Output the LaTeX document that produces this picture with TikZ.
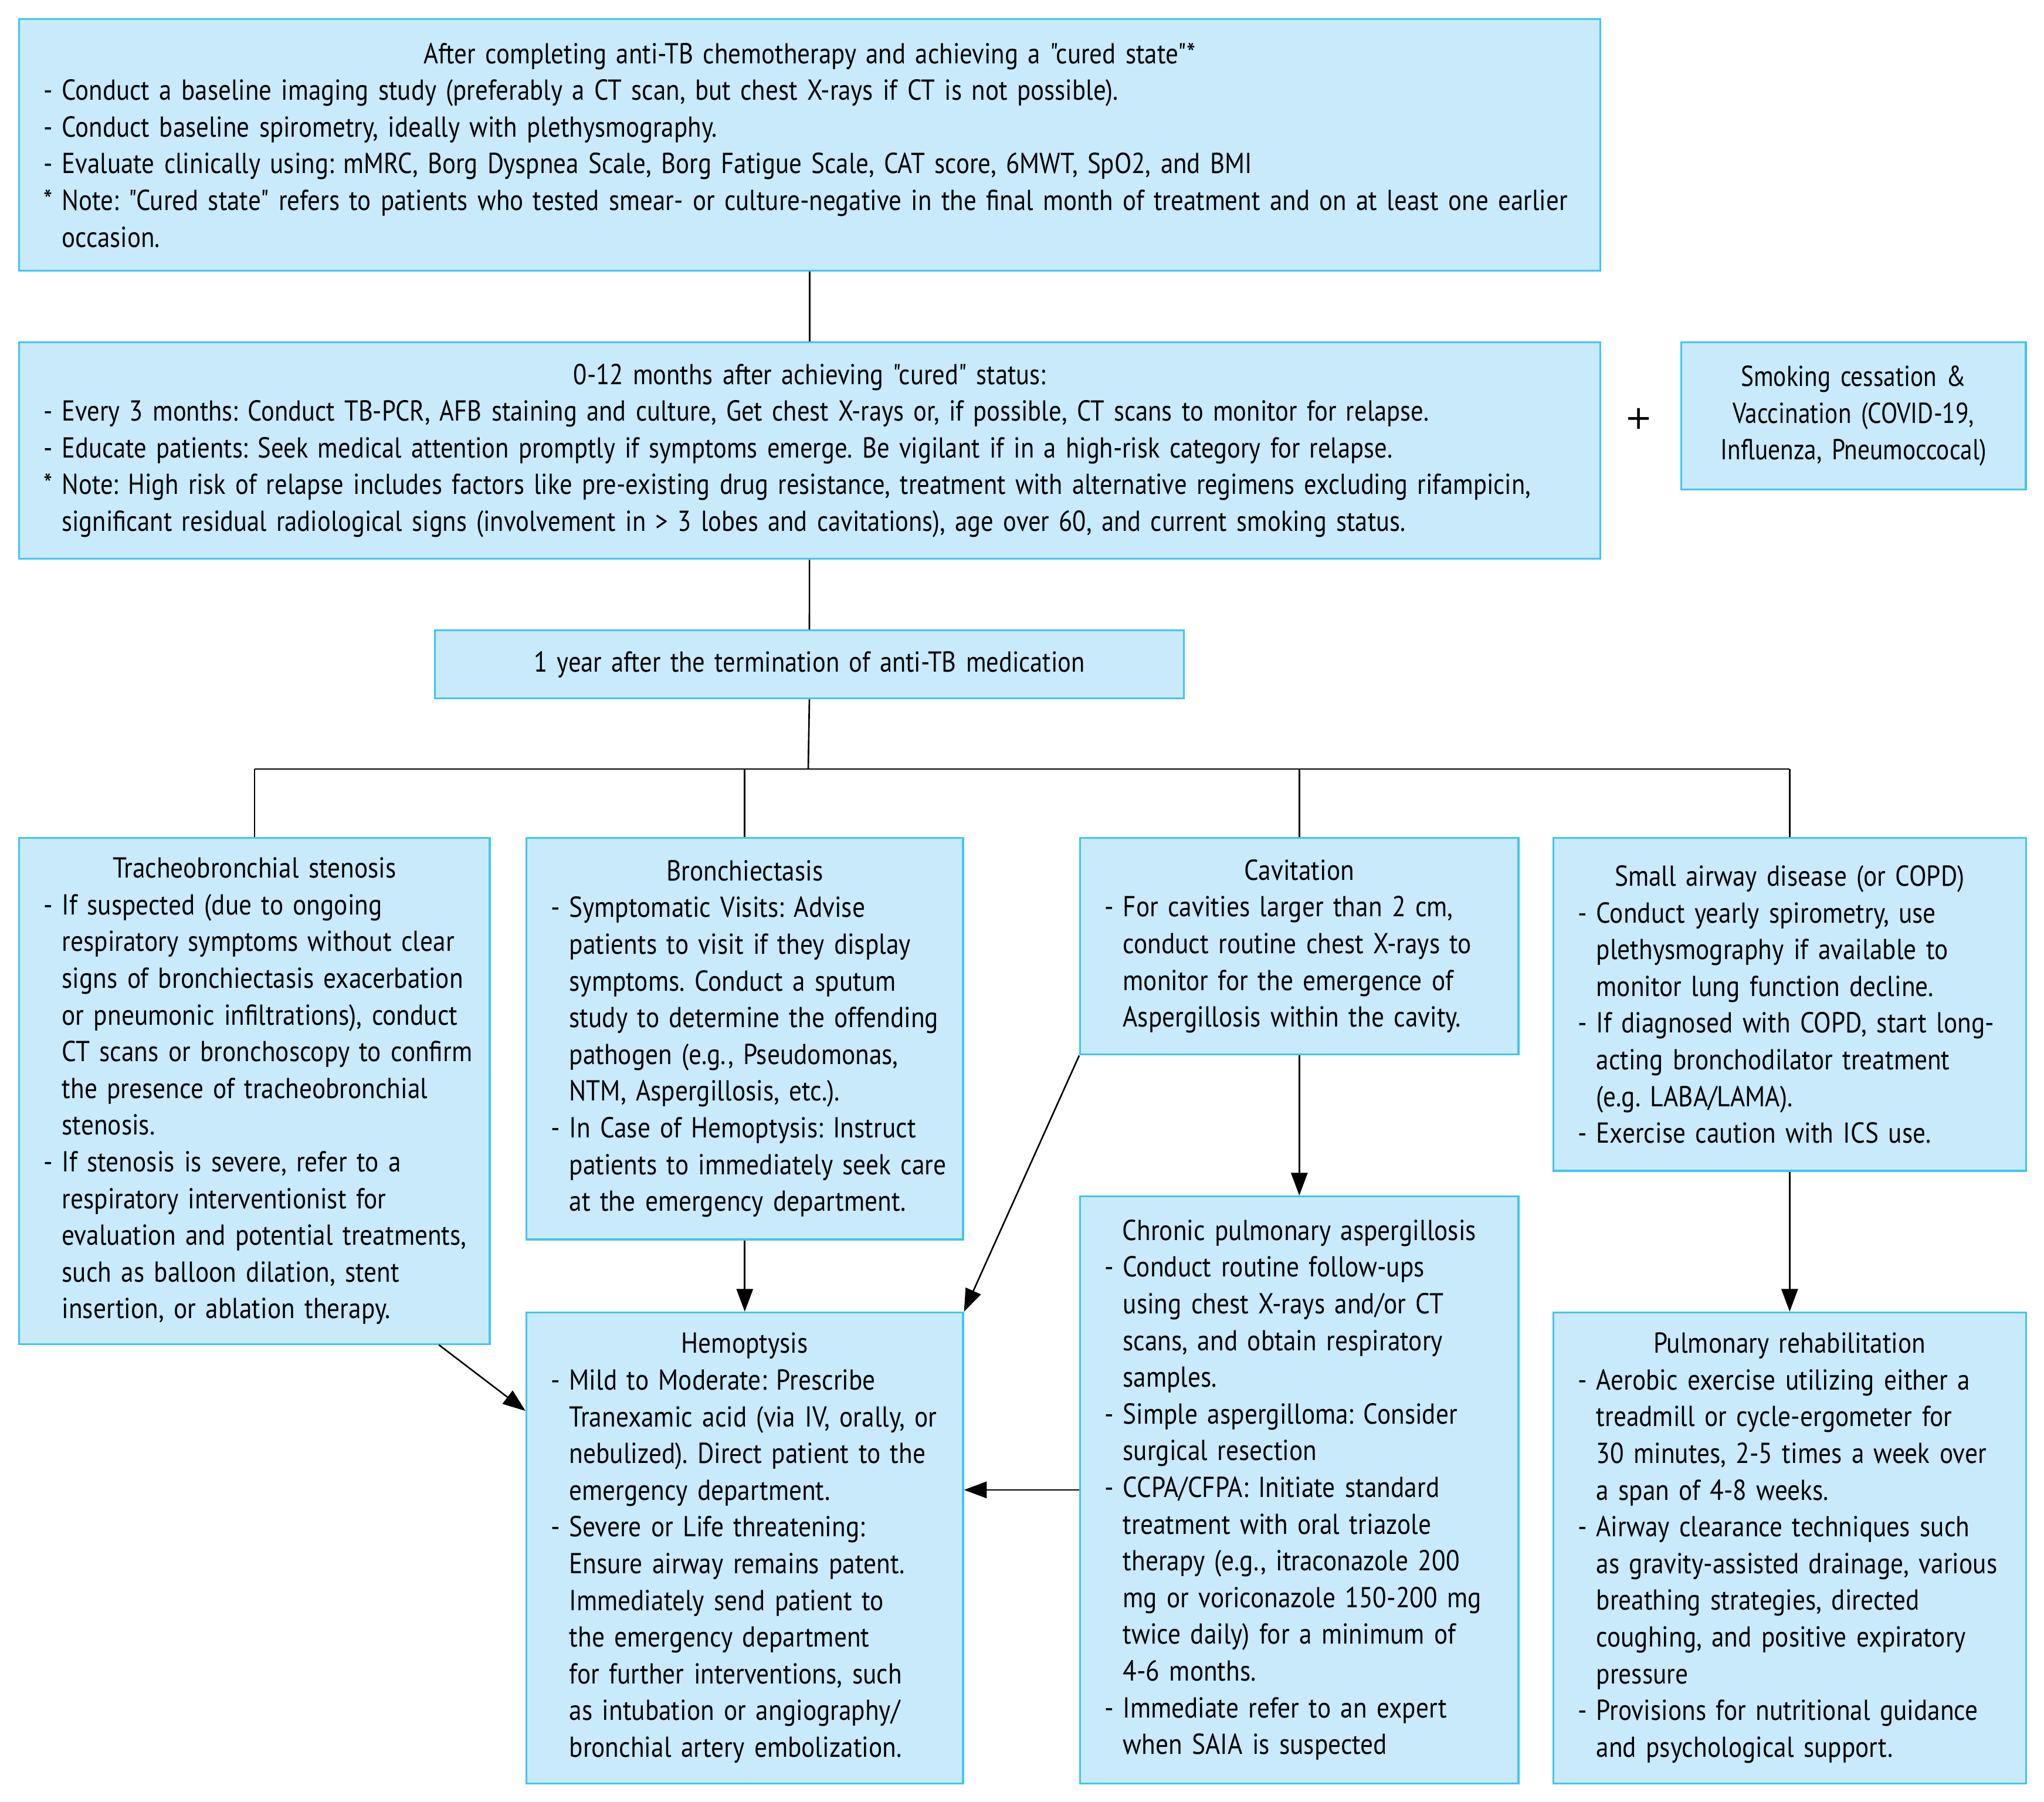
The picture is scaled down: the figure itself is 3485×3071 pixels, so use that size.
\documentclass[tikz,border=0pt]{standalone}
\usepackage{fontspec}
\setmainfont{PT Sans}
\newfontfamily\topfont[FakeStretch=0.865]{PT Sans}
\newfontfamily\curefont[FakeStretch=0.873]{PT Sans}
\newfontfamily\smokefont[FakeStretch=0.84]{PT Sans}
\newfontfamily\boxfont[FakeStretch=0.88]{PT Sans}
\newfontfamily\plusfont{DejaVu Sans}
\usepackage{xcolor}
\usepackage{tikz}
\usetikzlibrary{arrows.meta}
\frenchspacing

\definecolor{boxfill}{HTML}{C8EAFB}
\definecolor{boxline}{HTML}{41C5F0}

% hanging "- " items and centred headings inside the boxes
\newlength\dashw
\setlength\dashw{0.31cm}
\newcommand\hd[1]{{\centering\noindent #1\par}}
\newcommand\itm[2][-]{\hangindent=\dashw\hangafter=1\rightskip=-0.4cm plus 1fil
  \hyphenpenalty=10000 \noindent\makebox[\dashw][l]{#1}#2\par}

\begin{document}
\begin{tikzpicture}[
  x=0.01cm, y=-0.01cm,
  box/.style={rectangle, draw=boxline, fill=boxfill, line width=0.9pt,
              anchor=north west, inner xsep=0.42cm, inner ysep=0pt,
              align=left, font=\fontsize{14}{17.8}\boxfont},
  link/.style={line width=0.75pt},
  arr/.style={link, -{Triangle[length=11pt, width=8pt]}}
]
\useasboundingbox (0,0) rectangle (3485,3071);

% top row
\node[box, text width=26.10cm, minimum height=4.29cm, font=\fontsize{14}{17.8}\curefont] (cure) at (31,31) {%
\hd{After completing anti-TB chemotherapy and achieving a "cured state"*}
\itm{Conduct a baseline imaging study (preferably a CT scan, but chest X-rays if CT is not possible).}
\itm{Conduct baseline spirometry, ideally with plethysmography.}
\itm{Evaluate clinically using: mMRC, Borg Dyspnea Scale, Borg Fatigue Scale, CAT score, 6MWT, SpO2, and BMI}
\itm[*]{Note: "Cured state" refers to patients who tested smear- or culture-negative in the final month of treatment and on at least one earlier\newline occasion.}};

\node[box, text width=26.10cm, minimum height=3.69cm, font=\fontsize{14}{17.8}\topfont] (first) at (31,582) {%
\hd{0-12 months after achieving "cured" status:}
\itm{Every 3 months: Conduct TB-PCR, AFB staining and culture, Get chest X-rays or, if possible, CT scans to monitor for relapse.}
\itm{Educate patients: Seek medical attention promptly if symptoms emerge. Be vigilant if in a high-risk category for relapse.}
\itm[*]{Note: High risk of relapse includes factors like pre-existing drug resistance, treatment with alternative regimens excluding rifampicin,\newline significant residual radiological signs (involvement in > 3 lobes and cavitations), age over 60, and current smoking status.}};

\node[box, text width=5.03cm, minimum height=2.51cm, align=center, font=\fontsize{14}{17.8}\smokefont] (smoke) at (2865,582)
  {Smoking cessation \&\\Vaccination (COVID-19,\\Influenza, Pneumoccocal)};
\node[font=\fontsize{16}{16}\plusfont] (plus) at (2794,714) {+};

\node[box, text width=11.92cm, minimum height=1.16cm, align=center, font=\fontsize{14}{17.8}\topfont] (year) at (740,1073)
  {1 year after the termination of anti-TB medication};

% complications after one year
\node[box, text width=7.18cm, minimum height=8.62cm] (trach) at (31,1427) {%
\hd{Tracheobronchial stenosis}
\itm{If suspected (due to ongoing\newline respiratory symptoms without clear\newline signs of bronchiectasis exacerbation\newline or pneumonic infiltrations), conduct\newline CT scans or bronchoscopy to confirm\newline the presence of tracheobronchial\newline stenosis.}
\itm{If stenosis is severe, refer to a\newline respiratory interventionist for\newline evaluation and potential treatments,\newline such as balloon dilation, stent\newline insertion, or ablation therapy.}};

\node[box, text width=6.60cm, minimum height=6.84cm] (bron) at (896,1427) {%
\hd{Bronchiectasis}
\itm{Symptomatic Visits: Advise\newline patients to visit if they display\newline symptoms. Conduct a sputum\newline study to determine the offending\newline pathogen (e.g., Pseudomonas,\newline NTM, Aspergillosis, etc.).}
\itm{In Case of Hemoptysis: Instruct\newline patients to immediately seek care\newline at the emergency department.}};

\node[box, text width=6.63cm, minimum height=3.69cm] (cav) at (1840,1427) {%
\hd{Cavitation}
\itm{For cavities larger than 2 cm,\newline conduct routine chest X-rays to\newline monitor for the emergence of\newline Aspergillosis within the cavity.}};

\node[box, text width=7.21cm, minimum height=5.67cm] (small) at (2647,1427) {%
\hd{Small airway disease (or COPD)}
\itm{Conduct yearly spirometry, use\newline plethysmography if available to\newline monitor lung function decline.}
\itm{If diagnosed with COPD, start long-\newline acting bronchodilator treatment\newline (e.g. LABA/LAMA).}
\itm{Exercise caution with ICS use.}};

% follow-up boxes
\node[box, text width=6.60cm, minimum height=8.02cm] (hemo) at (896,2236) {%
\hd{Hemoptysis}
\itm{Mild to Moderate: Prescribe\newline Tranexamic acid (via IV, orally, or\newline nebulized). Direct patient to the\newline emergency department.}
\itm{Severe or Life threatening:\newline Ensure airway remains patent.\newline Immediately send patient to\newline the emergency department\newline for further interventions, such\newline as intubation or angiography/\newline bronchial artery embolization.}};

\node[box, text width=6.63cm, minimum height=10.00cm] (cpa) at (1840,2038) {%
\hd{Chronic pulmonary aspergillosis}
\itm{Conduct routine follow-ups\newline using chest X-rays and/or CT\newline scans, and obtain respiratory\newline samples.}
\itm{Simple aspergilloma: Consider\newline surgical resection}
\itm{CCPA/CFPA: Initiate standard\newline treatment with oral triazole\newline therapy (e.g., itraconazole 200\newline mg or voriconazole 150-200 mg\newline twice daily) for a minimum of\newline 4-6 months.}
\itm{Immediate refer to an expert\newline when SAIA is suspected}};

\node[box, text width=7.21cm, minimum height=8.02cm] (rehab) at (2647,2236) {%
\hd{Pulmonary rehabilitation}
\itm{Aerobic exercise utilizing either a\newline treadmill or cycle-ergometer for\newline 30 minutes, 2-5 times a week over\newline a span of 4-8 weeks.}
\itm{Airway clearance techniques such\newline as gravity-assisted drainage, various\newline breathing strategies, directed\newline coughing, and positive expiratory\newline pressure}
\itm{Provisions for nutritional guidance\newline and psychological support.}};

% connectors
\coordinate (bus) at (1378,1311);
\draw[link] (cure) -- (first);
\draw[link] (first) -- (year);
\draw[link] (year.south) -- (bus);
\draw[link] (trach.north |- bus) -- (small.north |- bus);
\foreach \n in {trach,bron,cav,small}
  \draw[link] (\n.north |- bus) -- (\n.north);
\draw[arr] (bron) -- (hemo);
\draw[arr] (cav) -- (cpa);
\draw[arr] (small) -- (rehab);
\draw[arr] (cav.south west) -- (hemo.north east);
\draw[arr] (trach.-54.3) -- (hemo.148.1);
\draw[arr] (cpa.west) -- (cpa.west -| hemo.east);
\end{tikzpicture}
\end{document}
